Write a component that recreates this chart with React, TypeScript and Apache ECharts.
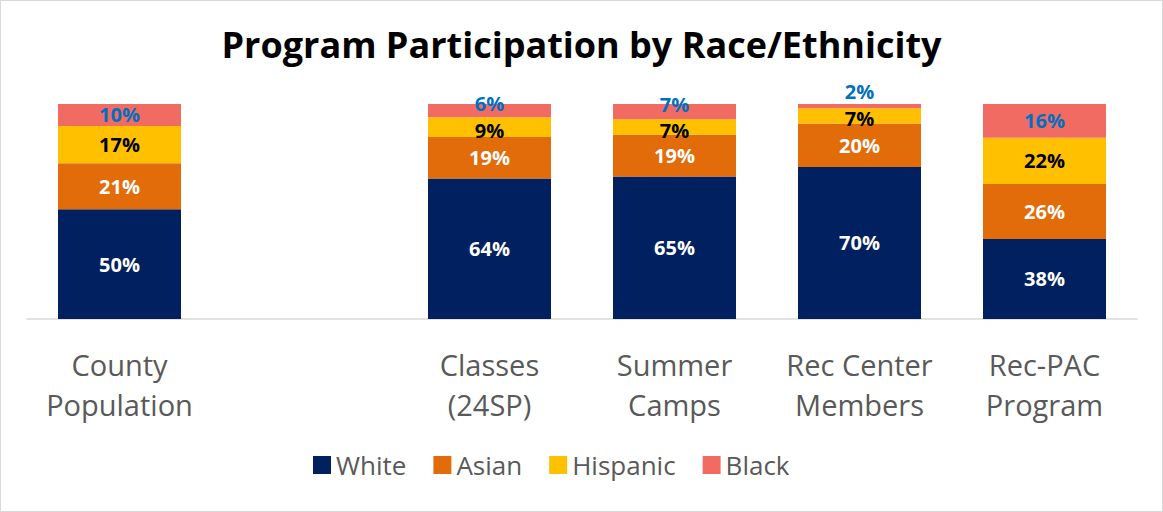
import React, { useEffect, useRef } from "react";
import * as echarts from "echarts";

const categories = ["County\nPopulation", "", "Classes\n(24SP)", "Summer\nCamps", "Rec Center\nMembers", "Rec-PAC\nProgram"];
const seriesNames = ["White", "Asian", "Hispanic", "Black"];
const white = [50, null, 64, 65, 70, 38];
const asian = [21, null, 19, 19, 20, 26];
const hispanic = [17, null, 9, 7, 7, 22];
const black = [10, null, 6, 7, 2, 16];
const colors = ["#002060", "#E36C0A", "#FFC000", "#F26B63"];
const labelColors = ["#FFFFFF", "#FFFFFF", "#000000", "#0070C0"];

export default function App() {
  const ref = useRef<HTMLDivElement>(null);
  useEffect(() => {
    if (!ref.current) return;
    const chart = echarts.init(ref.current, null, { renderer: "svg" });
    const all = [white, asian, hispanic, black];
    const totals = categories.map((_, i) =>
      all.reduce((s, arr) => s + (arr[i] == null ? 0 : (arr[i] as number)), 0)
    );
    const font = "'Open Sans', sans-serif";
    const smallOffset = (si: number, v: number) => {
      if (si === 3 && v < 4) return { offset: [0, -15] };
      if (si === 3 && v < 8) return { offset: [0, -7] };
      if (si === 2 && v < 10) return { offset: [0, 3] };
      return undefined;
    };
    const series = all.map((arr, si) => ({
      name: seriesNames[si],
      type: "bar",
      stack: "total",
      barWidth: 123,
      itemStyle: { color: colors[si] },
      data: arr.map((v, i) =>
        v == null
          ? "-"
          : {
              value: (v / totals[i]) * 100,
              raw: v,
              label: smallOffset(si, v),
            }
      ),
      label: {
        show: true,
        position: "inside",
        color: labelColors[si],
        fontFamily: font,
        fontWeight: "bold",
        fontSize: 20,
        lineHeight: 18,
        formatter: (p: any) => `${p.data.raw}%`,
      },
    }));
    chart.setOption({
      animation: false,
      title: {
        text: "Program Participation by Race/Ethnicity",
        left: "center",
        top: 20,
        textStyle: { fontFamily: font, fontWeight: "bold", fontSize: 36, color: "#000" },
      },
      legend: {
        data: seriesNames,
        bottom: 28,
        left: 307,
        icon: "rect",
        itemWidth: 18,
        itemHeight: 18,
        itemGap: 27,
        textStyle: { fontFamily: font, fontSize: 26, color: "#595959" },
      },
      grid: { left: 26, right: 25, top: 103, bottom: 192 },
      xAxis: {
        type: "category",
        data: categories,
        axisTick: { show: false },
        axisLine: { lineStyle: { color: "#D9D9D9", width: 1.5 } },
        axisLabel: {
          fontFamily: font,
          fontSize: 29,
          color: "#595959",
          lineHeight: 40,
          margin: 25,
          interval: 0,
        },
      },
      yAxis: { type: "value", min: 0, max: 100, show: false, splitLine: { show: false } },
      series,
    });
    return () => chart.dispose();
  }, []);
  return (
    <div
      ref={ref}
      style={{
        position: "fixed",
        left: 0,
        top: 0,
        width: 1163,
        height: 512,
        boxSizing: "border-box",
        border: "1px solid #D9D9D9",
        background: "#fff",
      }}
    />
  );
}
